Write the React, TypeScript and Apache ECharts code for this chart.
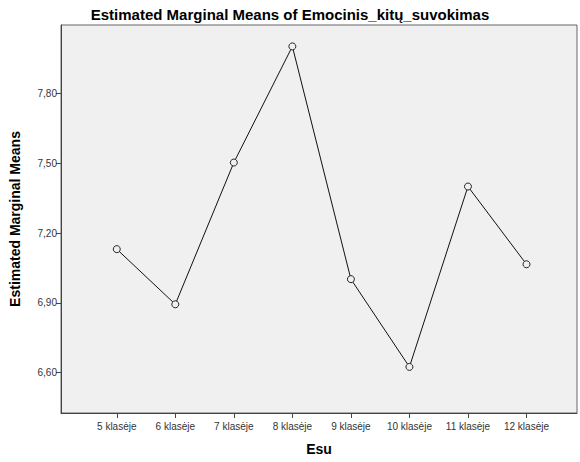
import React, { useEffect, useRef } from "react";
import * as echarts from "echarts";

const categories = ["5 klasėje", "6 klasėje", "7 klasėje", "8 klasėje", "9 klasėje", "10 klasėje", "11 klasėje", "12 klasėje"];
const means = [7.131, 6.894, 7.503, 8.002, 7.002, 6.625, 7.4, 7.066];
const yTicks = [6.6, 6.9, 7.2, 7.5, 7.8];

export default function App() {
  const ref = useRef<HTMLDivElement>(null);
  useEffect(() => {
    const chart = echarts.init(ref.current!, null, { renderer: "svg" });
    const font = "'Liberation Sans', Arial, sans-serif";
    chart.setOption({
      animation: false,
      backgroundColor: "#ffffff",
      title: {
        text: "Estimated Marginal Means of Emocinis_kitų_suvokimas",
        left: "center",
        top: 2,
        textStyle: { fontFamily: font, fontSize: 15, fontWeight: "bold", color: "#000" },
      },
      grid: {
        left: 56,
        top: 25,
        right: 3,
        bottom: 49,
        show: true,
        backgroundColor: "#f0f0f0",
        borderColor: "#666",
        borderWidth: 1,
      },
      xAxis: {
        type: "value",
        min: -0.953,
        max: 7.863,
        name: "Esu",
        nameLocation: "middle",
        nameGap: 29,
        nameTextStyle: { fontFamily: font, fontSize: 14, fontWeight: "bold", color: "#000" },
        axisLine: { show: true, onZero: false, lineStyle: { color: "#444" } },
        axisTick: { show: true, length: 5, lineStyle: { color: "#444" }, customValues: categories.map((_, i) => i) },
        axisLabel: {
          customValues: categories.map((_, i) => i),
          formatter: (v: number) => categories[Math.round(v)] ?? "",
          fontFamily: font,
          fontSize: 10,
          color: "#333",
          margin: 8,
        },
        splitLine: { show: false },
      },
      yAxis: {
        type: "value",
        min: 6.427,
        max: 8.094,
        name: "Estimated Marginal Means",
        nameLocation: "middle",
        nameGap: 39,
        nameTextStyle: { fontFamily: font, fontSize: 14, fontWeight: "bold", color: "#000" },
        axisLine: { show: true, onZero: false, lineStyle: { color: "#444" } },
        axisTick: { show: true, length: 5, lineStyle: { color: "#444" }, customValues: yTicks },
        axisLabel: {
          customValues: yTicks,
          formatter: (v: number) => v.toFixed(2).replace(".", ","),
          fontFamily: font,
          fontSize: 10,
          color: "#333",
          margin: 4,
        },
        splitLine: { show: false },
      },
      series: [
        {
          type: "line",
          data: means.map((v, i) => [i, v]),
          symbol: "circle",
          symbolSize: 7,
          lineStyle: { color: "#111", width: 1 },
          itemStyle: { color: "#f0f0f0", borderColor: "#222", borderWidth: 1 },
        },
      ],
    });
    return () => chart.dispose();
  }, []);
  return <div ref={ref} style={{ position: "fixed", left: 0, top: 0, width: 580, height: 462 }} />;
}
